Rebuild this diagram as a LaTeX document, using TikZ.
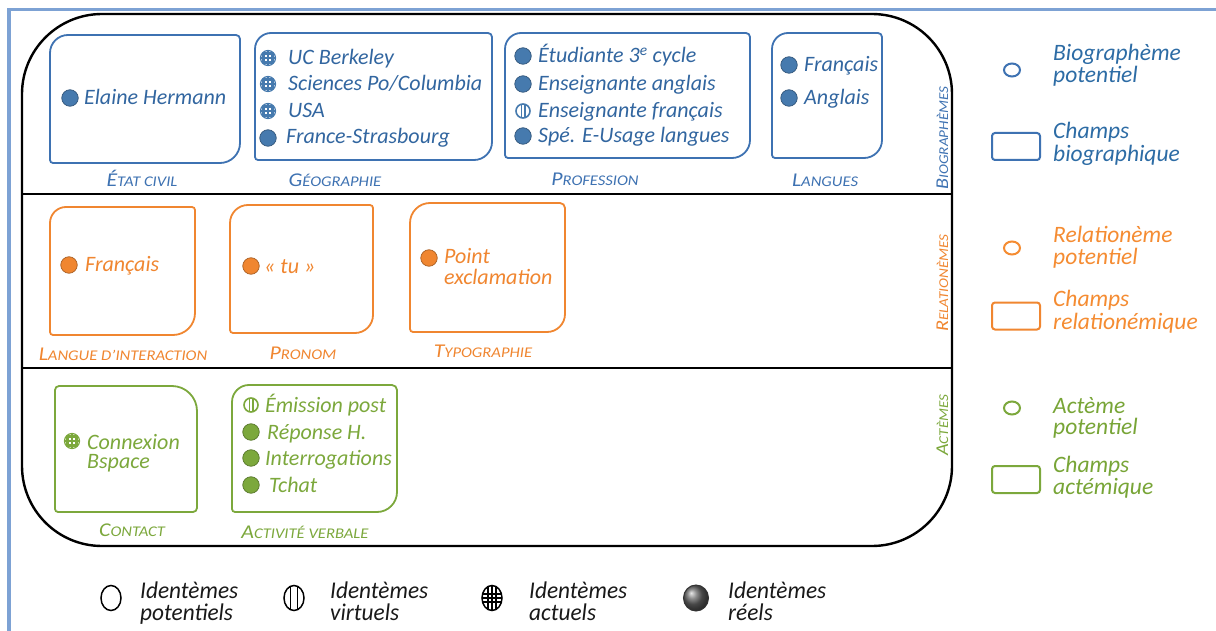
\documentclass[tikz,border=0pt]{standalone}
\usepackage{fontspec}
\setmainfont{Carlito}
\newfontfamily\labfont[FakeStretch=1.12]{Carlito}
\newfontfamily\legfont[FakeStretch=0.97]{Carlito}
\usetikzlibrary{shapes.geometric}
\definecolor{cblue}{RGB}{62,114,178}
\definecolor{tblue}{RGB}{50,102,160}
\definecolor{bblue}{RGB}{70,122,174}
\definecolor{lblue}{RGB}{45,108,165}
\definecolor{corange}{RGB}{240,134,48}
\definecolor{lorange}{RGB}{245,140,50}
\definecolor{cgreen}{RGB}{124,168,60}
\definecolor{lgreen}{RGB}{120,165,55}
\definecolor{frameblue}{RGB}{125,162,212}
\definecolor{legtext}{RGB}{25,25,25}
\newcommand\scl[2]{{\fontsize{19.5}{19.5}\selectfont #1}{\fontsize{14.8}{14.8}\selectfont #2}}
\newcommand\scv[2]{{\fontsize{18}{18}\selectfont #1}{\fontsize{13.5}{13.5}\selectfont #2}}
\newcommand\twolines[3]{{\fontsize{22}{#1}\selectfont\begin{tabular}[t]{@{}l@{}}#2\\#3\end{tabular}}}
\newcommand\rbox[9]{%
\draw[#1, boxline] (#2,{#3+#6}) .. controls (#2,{#3+0.45*#6}) and ({#2+0.45*#6},#3) .. ({#2+#6},#3)
 -- ({#4-#7},#3) .. controls ({#4-0.45*#7},#3) and (#4,{#3+0.45*#7}) .. (#4,{#3+#7})
 -- (#4,{#5-#8}) .. controls (#4,{#5-0.45*#8}) and ({#4-0.45*#8},#5) .. ({#4-#8},#5)
 -- ({#2+#9},#5) .. controls ({#2+0.45*#9},#5) and (#2,{#5-0.45*#9}) .. (#2,{#5-#9})
 -- cycle;}
\tikzset{
  boxline/.style={line width=1.8pt},
  item/.style={anchor=base west, inner sep=0pt, font=\fontsize{22}{22}\selectfont\itshape},
  lab/.style={anchor=base, inner sep=0pt, font=\labfont\itshape},
  vlab/.style={anchor=base, inner sep=0pt, rotate=90, font=\labfont\itshape},
  leg/.style={anchor=base west, inner sep=0pt, font=\fontsize{23.5}{23.5}\selectfont\itshape},
  bleg/.style={anchor=base west, inner sep=0pt, text=legtext, font=\legfont\fontsize{24}{24}\selectfont\itshape},
  realb/.style={circle, inner sep=0pt, minimum size=16.5pt, fill=#1, draw=#1!70!black, line width=0.7pt},
  actb/.style={circle, inner sep=0pt, minimum size=15pt, fill=white, draw=#1, line width=1.2pt,
    path picture={\foreach \d in {-4.5,0,4.5}{
      \draw[#1, line width=2.4pt] ([xshift=\d pt]path picture bounding box.north) -- ([xshift=\d pt]path picture bounding box.south);
      \draw[#1, line width=2.4pt] ([yshift=\d pt]path picture bounding box.west) -- ([yshift=\d pt]path picture bounding box.east);}}},
  virtb/.style={circle, inner sep=0pt, minimum size=14pt, fill=white, draw=#1, line width=1.6pt,
    path picture={\foreach \d in {-1.8,1.8}{
      \draw[#1, line width=1.4pt] ([xshift=\d pt]path picture bounding box.north) -- ([xshift=\d pt]path picture bounding box.south);}}},
  legcirc/.style={ellipse, inner sep=0pt, minimum width=16pt, minimum height=13pt, draw=#1, line width=2pt},
  legrect/.style={rectangle, rounded corners=3pt, inner sep=0pt, minimum width=48pt, minimum height=27pt, draw=#1, line width=2pt},
  bsym/.style={ellipse, inner sep=0pt, minimum width=20pt, minimum height=25pt, draw=black, line width=1.5pt, fill=white},
}
\begin{document}
\begin{tikzpicture}[x=1pt, y=-1pt]
\useasboundingbox (0,0) rectangle (1216,631);
\fill[white] (0,0) rectangle (1216,631);
% outer frame
\draw[frameblue, line width=3.5pt] (9,631) -- (9,9.5) -- (1216,9.5);
% main rounded rectangle
\draw[black, line width=2.4pt, rounded corners=80pt] (22,14) rectangle (952,546);
\draw[black, line width=2pt] (22,194) -- (952,194);
\draw[black, line width=2pt] (22,368) -- (952,368);

% ---------- top row (biographemes)
\rbox{cblue}{50}{35}{240}{163}{18}{4}{20}{3}
\rbox{cblue}{255}{33}{492}{160}{16}{4}{18}{3}
\rbox{cblue}{505}{33}{750}{158}{16}{4}{18}{3}
\rbox{cblue}{772}{33}{882}{158}{16}{4}{18}{3}

\node[realb=bblue] (b1) at (70,98) {};
\node[item, text=tblue] (t1) at (84,105) {Elaine Hermann};

\node[actb=bblue] (b2) at (268,58) {};
\node[actb=bblue] (b3) at (268,84) {};
\node[actb=bblue] (b4) at (268,111) {};
\node[realb=bblue] (b5) at (268,138) {};
\node[item, text=tblue] (t2) at (288,65) {UC Berkeley};
\node[item, text=tblue] (t3) at (288,91) {Sciences Po/Columbia};
\node[item, text=tblue] (t4) at (288,118) {USA};
\node[item, text=tblue] (t5) at (286,144) {France-Strasbourg};

\node[realb=bblue] (b6) at (523,56) {};
\node[realb=bblue] (b7) at (523,84) {};
\node[virtb=bblue] (b8) at (523,111) {};
\node[realb=bblue] (b9) at (523,136) {};
\node[item, text=tblue] (t6) at (538,63) {Étudiante 3\textsuperscript{e} cycle};
\node[item, text=tblue] (t7) at (538,91) {Enseignante anglais};
\node[item, text=tblue] (t8) at (538,118) {Enseignante français};
\node[item, text=tblue] (t9) at (538,143) {Spé. E-Usage langues};

\node[realb=bblue] (b10) at (789,65) {};
\node[realb=bblue] (b11) at (789,98) {};
\node[item, text=tblue] (t10) at (804,72) {Français};
\node[item, text=tblue] (t11) at (804,105) {Anglais};

\node[lab, text=cblue] (l1) at (142,187) {\scl{É}{TAT CIVIL}};
\node[lab, text=cblue] (l2) at (335,187) {\scl{G}{ÉOGRAPHIE}};
\node[lab, text=cblue] (l3) at (595,186) {\scl{P}{ROFESSION}};
\node[lab, text=cblue] (l4) at (825,187) {\scl{L}{ANGUES}};

% ---------- middle row (relationemes)
\rbox{corange}{50}{207}{195}{335}{16}{3}{22}{3}
\rbox{corange}{230}{205}{373}{333}{18}{3}{18}{3}
\rbox{corange}{410}{203}{565}{332}{20}{5}{18}{3}

\node[realb=corange] (o1) at (69,265) {};
\node[item, text=corange] (u1) at (85,272) {Français};
\node[realb=corange] (o2) at (251,266) {};
\node[item, text=corange] (u2) at (264,273) {«~tu~»};
\node[realb=corange] (o3) at (429,258) {};
\node[item, text=corange] (u3) at (444,264) {\twolines{18}{Point}{exclamation}};

\node[lab, text=corange] (l5) at (123,360) {\scl{L}{ANGUE D’INTERACTION}};
\node[lab, text=corange] (l6) at (303,359) {\scl{P}{RONOM}};
\node[lab, text=corange] (l7) at (483,357) {\scl{T}{YPOGRAPHIE}};

% ---------- bottom row (actemes)
\rbox{cgreen}{55}{386}{197}{512}{4}{25}{4}{3}
\rbox{cgreen}{232}{385}{397}{512}{17}{5}{20}{3}

\node[actb=cgreen] (g1) at (72,441) {};
\node[item, text=cgreen] (v1) at (87,449) {\twolines{19}{Connexion}{Bspace}};

\node[virtb=cgreen] (g2) at (251,405) {};
\node[realb=cgreen] (g3) at (251,432) {};
\node[realb=cgreen] (g4) at (251,458) {};
\node[realb=cgreen] (g5) at (251,485) {};
\node[item, text=cgreen] (v3) at (265,412) {Émission post};
\node[item, text=cgreen] (v4) at (267,439) {Réponse H.};
\node[item, text=cgreen] (v5) at (265,465) {Interrogations};
\node[item, text=cgreen] (v6) at (269,492) {Tchat};

\node[lab, text=cgreen] (l8) at (132,536) {\scl{C}{ONTACT}};
\node[lab, text=cgreen] (l9) at (305,538) {\scl{A}{CTIVITÉ VERBALE}};

% ---------- vertical labels
\node[vlab, text=cblue] (s1) at (948,138) {\scv{B}{IOGRAPHÈMES}};
\node[vlab, text=corange] (s2) at (948,283) {\scv{R}{ELATIONÈMES}};
\node[vlab, text=cgreen] (s3) at (948,425) {\scv{A}{CTÈMES}};

% ---------- right legend
\node[legcirc=cblue] (lc1) at (1012,70) {};
\node[leg, text=lblue] (lt1) at (1053,61) {Biographème};
\node[leg, text=lblue] (lt2) at (1053,82.5) {potentiel};
\node[legrect=cblue] (lr1) at (1016,146.5) {};
\node[leg, text=lblue] (lt3) at (1053,139) {Champs};
\node[leg, text=lblue] (lt4) at (1053,162) {biographique};

\node[legcirc=lorange] (lc2) at (1012,248) {};
\node[leg, text=lorange] (lt5) at (1053,243) {Relationème};
\node[leg, text=lorange] (lt6) at (1053,264.5) {potentiel};
\node[legrect=corange] (lr2) at (1016,316) {};
\node[leg, text=lorange] (lt7) at (1053,306) {Champs};
\node[leg, text=lorange] (lt8) at (1053,329) {relationémique};

\node[legcirc=cgreen] (lc3) at (1012,408) {};
\node[leg, text=lgreen] (lt9) at (1053,413) {Actème};
\node[leg, text=lgreen] (lt10) at (1053,434.5) {potentiel};
\node[legrect=cgreen] (lr3) at (1016,479.5) {};
\node[leg, text=lgreen] (lt11) at (1053,472) {Champs};
\node[leg, text=lgreen] (lt12) at (1053,494) {actémique};

% ---------- bottom legend
\node[bsym] (e1) at (111,598) {};
\node[bsym, path picture={\foreach \d in {-3.5,3.5}{
   \draw[black, line width=1.2pt] ([xshift=\d pt]path picture bounding box.north) -- ([xshift=\d pt]path picture bounding box.south);}}] (e2) at (294,598) {};
\node[bsym, path picture={\foreach \d in {-4,0,4}{
   \draw[black, line width=1.2pt] ([xshift=\d pt]path picture bounding box.north) -- ([xshift=\d pt]path picture bounding box.south);
   \draw[black, line width=1.2pt] ([yshift=\d pt]path picture bounding box.west) -- ([yshift=\d pt]path picture bounding box.east);}}] (e3) at (492,598) {};
\node[ellipse, inner sep=0pt, minimum width=25pt, minimum height=26pt, draw=black!80, line width=1pt, shading=ball, ball color=black!60] (e4) at (696,598) {};

\node[bleg] (bt1) at (140,598) {Identèmes};
\node[bleg] (bt2) at (140,620) {potentiels};
\node[bleg] (bt3) at (330,598) {Identèmes};
\node[bleg] (bt4) at (330,620) {virtuels};
\node[bleg] (bt5) at (529,598) {Identèmes};
\node[bleg] (bt6) at (529,620) {actuels};
\node[bleg] (bt7) at (728,598) {Identèmes};
\node[bleg] (bt8) at (728,620) {réels};
\end{tikzpicture}
\end{document}
